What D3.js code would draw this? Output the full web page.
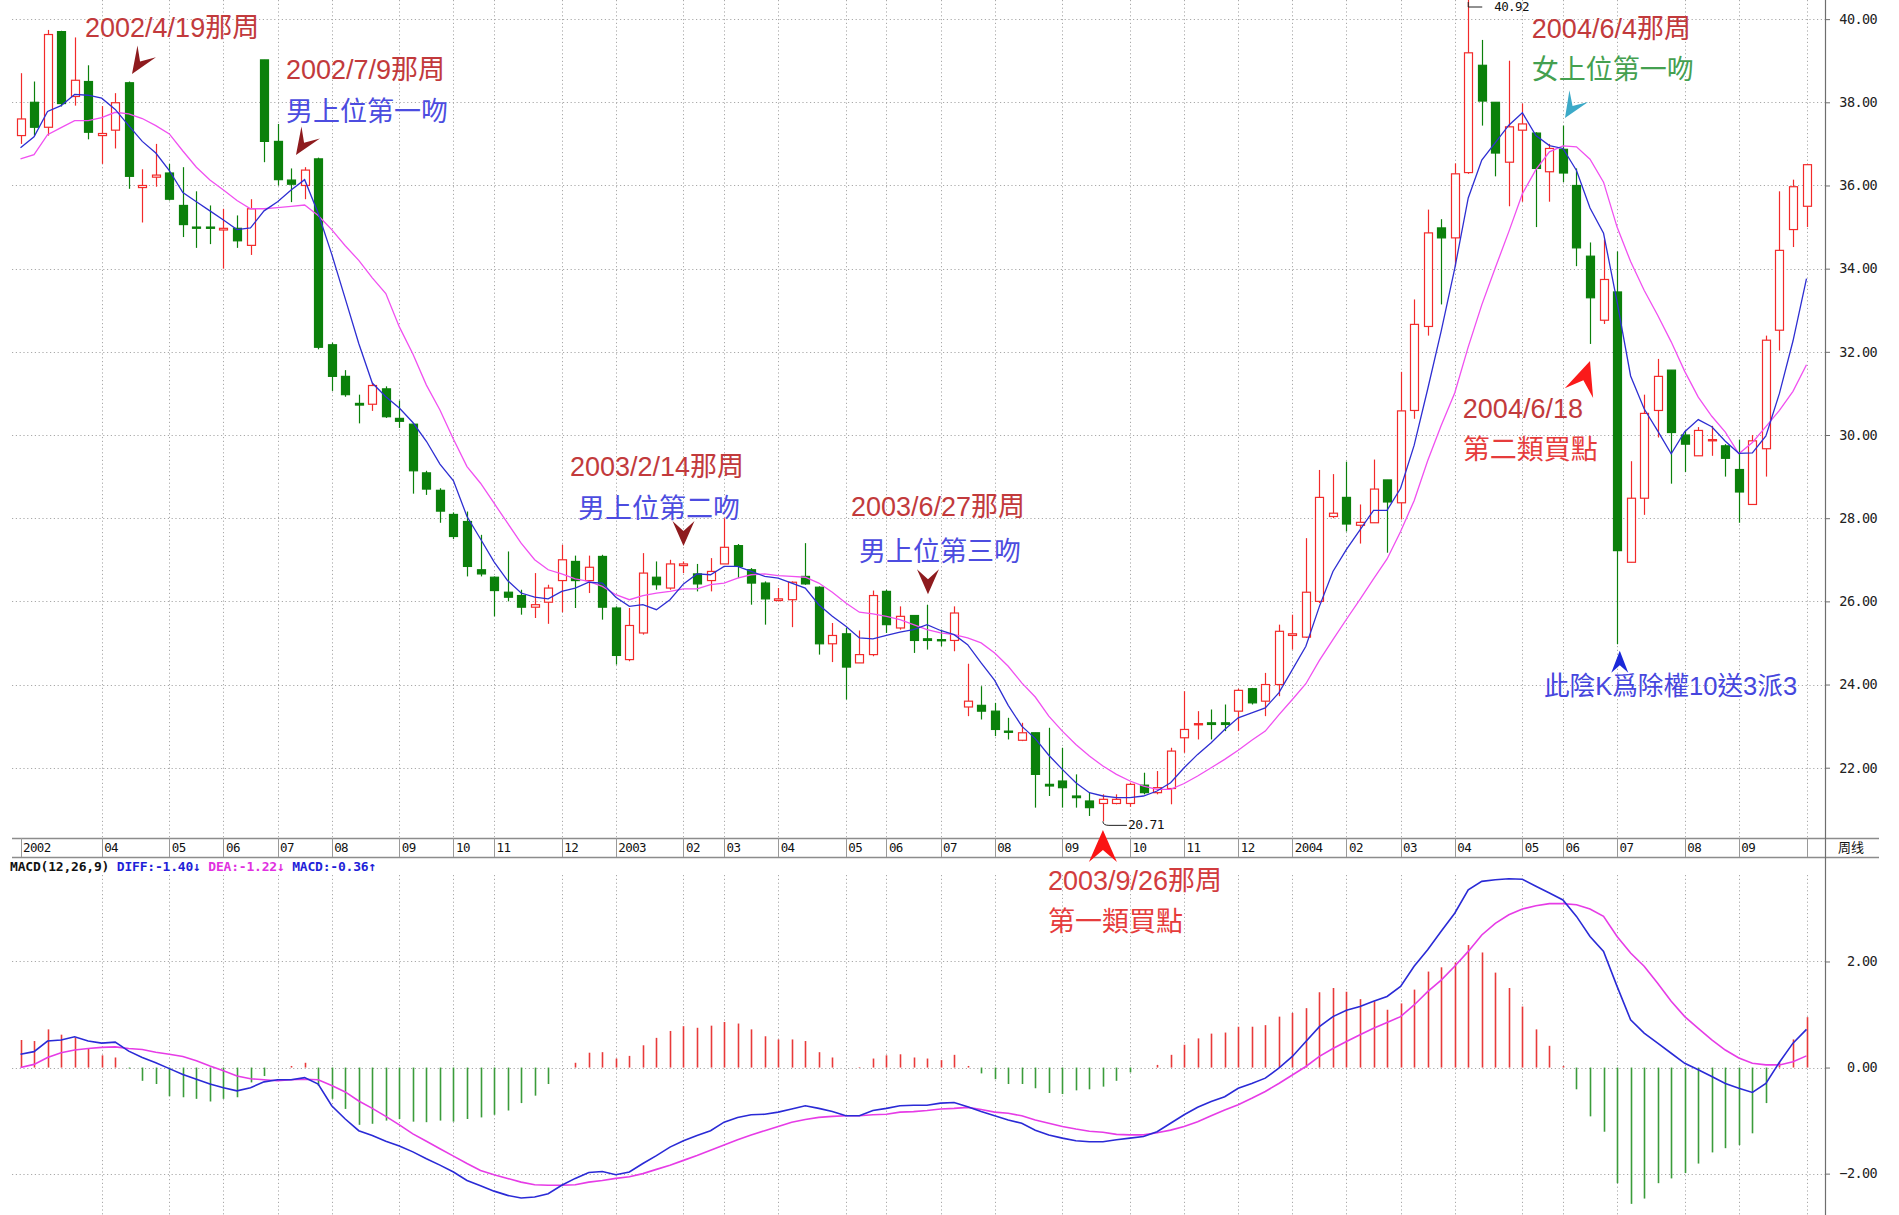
<!DOCTYPE html>
<html><head><meta charset="utf-8">
<script src="https://cdn.jsdelivr.net/npm/d3@7"></script>
<style>
html,body{margin:0;padding:0;background:#fff;}
svg{display:block;}
</style></head><body>
<svg id="chart" width="1899" height="1215"></svg>
<script>
// ---------- DATA (weekly candles, index 0..132) ----------
const opens = [
37.2,38.0,37.4,39.7,38.14,38.5,37.2,37.33,38.47,35.95,
36.2,36.3,35.52,35.0,35.0,34.93,34.97,34.56,39.02,37.06,
36.13,36.0,36.64,32.17,31.41,30.76,30.74,31.11,30.4,30.26,
29.09,28.67,28.09,27.92,26.76,26.58,26.22,26.14,25.86,25.98,
26.5,26.96,26.5,27.08,25.84,24.6,25.24,26.58,26.32,26.86,
26.66,26.5,26.9,27.34,26.76,26.44,26.02,26.04,26.6,26.34,
24.98,25.22,24.52,24.72,26.24,25.36,25.66,25.1,25.08,25.06,
23.46,23.5,23.36,22.88,22.66,22.84,21.6,21.68,21.32,21.2,
21.14,21.14,21.14,21.58,21.4,21.5,22.72,23.04,23.08,23.08,
23.36,23.9,23.6,24.0,25.18,25.14,26.0,28.04,28.5,27.83,
27.89,28.92,28.37,30.59,32.61,34.98,34.74,36.31,38.89,38.0,
36.56,37.33,37.26,36.33,36.87,36.0,34.3,32.76,33.44,26.94,
28.48,30.59,31.56,30.0,29.5,29.86,29.74,29.17,28.33,29.67,
32.52,34.94,35.5];
const highs = [
38.7,38.5,39.74,39.72,39.56,38.89,37.91,38.22,38.5,36.39,
37.0,36.52,36.44,35.86,35.52,35.44,35.28,35.67,39.02,37.48,
36.41,36.44,36.67,32.22,31.56,30.97,31.26,31.17,30.83,30.28,
29.14,28.72,28.14,28.16,27.6,26.6,27.2,26.28,26.68,26.4,
27.36,27.1,27.1,27.12,25.88,25.84,27.16,26.96,27.0,26.96,
26.9,27.04,28.0,27.38,26.8,26.48,26.32,26.48,27.4,26.36,
25.48,25.36,25.3,26.26,26.28,25.88,25.66,25.92,25.32,25.88,
24.5,23.96,23.56,23.2,23.08,22.84,22.96,22.48,21.84,21.4,
21.36,21.36,21.64,21.88,21.92,22.48,23.84,23.36,23.4,23.52,
23.9,23.92,24.28,25.44,25.68,27.52,29.16,29.06,29.36,28.33,
29.41,28.92,31.52,33.26,35.42,35.19,36.53,40.92,39.5,38.0,
39.0,37.97,37.28,37.0,37.44,36.41,34.63,34.7,34.41,29.37,
30.97,31.83,31.56,30.11,30.19,30.22,29.78,29.89,30.0,32.39,
35.86,36.14,36.52];
const lows = [
37.0,37.2,37.2,37.9,37.92,37.11,36.52,36.89,35.92,35.11,
35.97,35.64,34.76,34.5,34.59,34.0,34.5,34.33,36.56,36.0,
35.6,35.67,32.06,31.06,30.92,30.28,30.58,30.41,30.17,28.59,
28.56,27.89,27.5,26.6,26.6,25.64,26.0,25.68,25.6,25.46,
25.74,25.84,26.2,25.56,24.48,24.56,25.2,26.28,26.28,26.68,
26.24,26.24,26.9,26.56,25.92,25.44,26.0,25.38,26.4,24.72,
24.54,23.64,24.52,24.68,25.24,25.32,24.76,24.84,24.92,24.8,
23.24,23.16,22.76,22.68,22.64,21.04,21.32,21.04,21.04,20.84,
20.71,21.12,21.06,21.36,21.36,21.12,22.36,22.68,22.68,22.88,
22.88,23.52,23.24,23.72,24.84,25.12,25.96,28.0,27.68,27.39,
27.89,27.17,27.97,30.39,32.39,33.14,34.06,36.28,37.44,36.22,
35.5,35.61,35.0,35.61,36.08,34.06,32.19,32.67,24.97,26.94,
28.08,29.94,28.83,29.11,29.5,29.5,29.0,27.89,28.33,29.0,
32.03,34.52,35.0];
const closes = [
37.6,37.4,39.63,37.97,38.53,37.28,37.25,37.99,36.22,36.0,
36.25,35.67,35.06,34.98,34.97,34.97,34.67,35.44,37.06,36.14,
36.03,36.37,32.11,31.41,30.97,30.72,31.19,30.44,30.33,29.14,
28.7,28.17,27.56,26.84,26.66,26.26,26.1,25.86,25.92,26.32,
27.0,26.5,26.82,25.86,24.7,25.42,26.68,26.4,26.9,26.9,
26.42,26.72,27.3,26.84,26.44,26.06,26.06,26.46,26.42,24.98,
25.18,24.42,24.72,26.14,25.44,25.64,25.06,25.06,25.06,25.72,
23.6,23.36,22.92,22.86,22.84,21.84,21.56,21.52,21.28,21.04,
21.24,21.24,21.6,21.4,21.52,22.4,22.92,23.06,23.04,23.04,
23.86,23.56,24.0,25.28,25.22,26.22,28.5,28.12,27.86,27.9,
28.7,28.39,30.58,32.66,34.86,34.74,36.28,39.19,38.03,36.78,
37.41,37.48,36.41,36.89,36.3,34.5,33.3,33.74,27.22,28.48,
30.52,31.41,30.06,29.78,30.11,29.89,29.44,28.63,29.86,32.28,
34.44,35.97,36.5];
// moving averages (blue = MA5, magenta = MA10)
const ma5 = [
36.91,37.17,37.78,37.92,38.19,38.17,38.10,37.83,37.44,37.06,
36.78,36.36,35.83,35.61,35.39,35.17,34.94,34.98,35.39,35.61,
35.89,36.14,35.33,34.35,33.28,32.2,31.25,30.92,30.65,30.3,
29.85,29.3,28.9,28.04,27.5,26.95,26.5,26.2,26.1,26.06,
26.24,26.32,26.46,26.44,26.1,25.88,25.92,25.8,26.04,26.42,
26.66,26.64,26.84,26.84,26.72,26.6,26.56,26.44,26.32,25.92,
25.64,25.4,25.12,25.1,25.18,25.26,25.32,25.44,25.3,25.2,
24.96,24.52,24.1,23.5,23.0,22.7,22.3,21.96,21.64,21.4,
21.32,21.28,21.28,21.32,21.44,21.64,22.0,22.32,22.6,22.92,
23.2,23.32,23.44,23.8,24.36,24.92,25.88,26.72,27.25,27.72,
28.19,28.19,28.72,29.75,31.1,32.5,34.0,35.7,36.61,37.03,
37.45,37.75,37.2,36.96,36.89,36.36,35.46,34.85,33.2,31.42,
30.63,30.1,29.55,30.08,30.37,30.2,29.85,29.56,29.57,29.98,
31.0,32.26,33.76];
const ma10 = [
36.64,36.74,37.22,37.39,37.56,37.56,37.63,37.76,37.72,37.61,
37.44,37.24,36.83,36.44,36.13,35.89,35.64,35.44,35.44,35.47,
35.5,35.53,35.28,34.94,34.55,34.2,33.78,33.4,32.6,31.95,
31.2,30.6,29.9,29.24,28.84,28.36,27.88,27.4,27.0,26.76,
26.66,26.54,26.48,26.36,26.16,26.04,26.14,26.2,26.24,26.3,
26.3,26.4,26.44,26.56,26.64,26.66,26.62,26.6,26.58,26.44,
26.22,25.96,25.74,25.7,25.64,25.56,25.44,25.32,25.24,25.2,
25.12,25.0,24.76,24.44,24.04,23.7,23.24,22.88,22.56,22.28,
22.04,21.84,21.68,21.56,21.48,21.48,21.62,21.8,22.0,22.2,
22.42,22.66,22.88,23.27,23.64,24.02,24.58,25.08,25.57,26.05,
26.54,27.02,27.68,28.42,29.38,30.23,31.01,32.12,33.13,34.02,
34.89,35.8,36.38,36.81,36.95,36.93,36.63,36.08,35.0,34.17,
33.48,32.88,32.24,31.53,30.91,30.45,30.07,29.55,29.82,30.2,
30.59,31.05,31.69];
// MACD(12,26,9)
const diffs = [
0.25,0.3,0.5,0.52,0.58,0.5,0.46,0.48,0.31,0.19,
0.09,-0.02,-0.13,-0.22,-0.31,-0.38,-0.44,-0.38,-0.27,-0.23,
-0.23,-0.19,-0.31,-0.72,-0.97,-1.19,-1.28,-1.39,-1.48,-1.59,
-1.72,-1.84,-1.97,-2.13,-2.23,-2.33,-2.41,-2.46,-2.44,-2.38,
-2.22,-2.09,-1.98,-1.96,-2.02,-1.97,-1.81,-1.66,-1.5,-1.38,
-1.28,-1.19,-1.03,-0.94,-0.89,-0.88,-0.84,-0.78,-0.72,-0.77,
-0.83,-0.91,-0.91,-0.81,-0.77,-0.72,-0.71,-0.71,-0.67,-0.66,
-0.74,-0.83,-0.91,-0.99,-1.05,-1.18,-1.27,-1.33,-1.38,-1.4,
-1.4,-1.36,-1.33,-1.3,-1.21,-1.05,-0.89,-0.75,-0.64,-0.55,
-0.39,-0.3,-0.2,-0.01,0.21,0.49,0.77,0.96,1.08,1.15,
1.25,1.34,1.53,1.91,2.22,2.57,2.91,3.35,3.51,3.54,
3.56,3.55,3.42,3.29,3.16,2.85,2.47,2.19,1.53,0.9,
0.65,0.46,0.27,0.08,-0.04,-0.17,-0.3,-0.39,-0.47,-0.3,
0.1,0.46,0.72];
const deas = [
0.0,0.06,0.19,0.28,0.33,0.36,0.38,0.39,0.36,0.34,
0.29,0.25,0.21,0.13,0.03,-0.06,-0.16,-0.21,-0.23,-0.25,
-0.23,-0.22,-0.23,-0.34,-0.46,-0.63,-0.77,-0.92,-1.08,-1.25,
-1.39,-1.53,-1.67,-1.81,-1.94,-2.02,-2.09,-2.16,-2.21,-2.22,
-2.22,-2.21,-2.16,-2.13,-2.09,-2.06,-2.0,-1.92,-1.84,-1.75,
-1.66,-1.56,-1.46,-1.36,-1.27,-1.19,-1.11,-1.03,-0.98,-0.94,
-0.92,-0.91,-0.91,-0.89,-0.88,-0.84,-0.83,-0.81,-0.78,-0.77,
-0.75,-0.79,-0.84,-0.86,-0.91,-0.99,-1.05,-1.11,-1.16,-1.2,
-1.22,-1.26,-1.27,-1.27,-1.23,-1.18,-1.11,-1.02,-0.91,-0.8,
-0.7,-0.58,-0.45,-0.3,-0.14,0.02,0.21,0.36,0.49,0.62,
0.74,0.85,0.96,1.18,1.43,1.65,1.91,2.19,2.5,2.72,
2.88,2.99,3.05,3.09,3.09,3.07,2.99,2.85,2.47,2.16,
1.91,1.59,1.25,0.96,0.74,0.52,0.33,0.18,0.08,0.05,
0.05,0.11,0.22];
const macdBars = [
0.52,0.5,0.72,0.62,0.56,0.36,0.23,0.19,-0.02,-0.25,
-0.31,-0.54,-0.56,-0.59,-0.64,-0.59,-0.56,-0.28,-0.16,0.0,
0.03,0.09,-0.34,-0.59,-0.78,-1.08,-1.06,-1.0,-0.97,-1.02,
-1.03,-1.0,-1.02,-0.97,-0.94,-0.89,-0.81,-0.67,-0.53,-0.31,
0.0,0.09,0.28,0.29,0.17,0.22,0.42,0.56,0.69,0.78,
0.75,0.79,0.86,0.83,0.72,0.59,0.53,0.53,0.5,0.29,
0.19,0.0,0.01,0.17,0.23,0.25,0.19,0.17,0.14,0.24,
0.03,-0.11,-0.22,-0.31,-0.31,-0.39,-0.48,-0.5,-0.43,-0.41,
-0.36,-0.25,-0.09,0.0,0.05,0.24,0.43,0.55,0.64,0.66,
0.77,0.77,0.8,0.96,1.03,1.12,1.42,1.5,1.43,1.29,
1.25,1.09,1.21,1.47,1.81,1.89,1.98,2.31,2.17,1.79,
1.5,1.15,0.72,0.41,0.03,-0.41,-0.92,-1.21,-2.18,-2.57,
-2.47,-2.18,-2.09,-1.99,-1.81,-1.6,-1.52,-1.46,-1.24,-0.67,
0.1,0.53,0.95];
// date axis
const monthLabels = ["2002","04","05","06","07","08","09","10","11","12",
  "2003","02","03","04","05","06","07","08","09","10","11","12",
  "2004","02","03","04","05","06","07","08","09",""];
const monthIndex = [0,6,11,15,19,23,28,32,35,40,
  44,49,52,56,61,64,68,72,77,82,86,90,
  94,98,102,106,111,114,118,123,127,132];
const priceTicks = [22,24,26,28,30,32,34,36,38,40];
const macdTicks = [-2,0,2];
const periodLabel = "周线";
const macdTitle = ["MACD(12,26,9) ","DIFF:-1.40↓ ","DEA:-1.22↓ ","MACD:-0.36↑"];

// ---------- LAYOUT ----------
const W = 1899, H = 1215;
const plotLeft = 12, axisX = 1825, labelRight = 1877;
const priceTop = 0, priceBottom = 838, stripBottom = 857, macdBottom = 1215;

const svg = d3.select("#chart");
const n = closes.length;
const x = d3.scaleLinear().domain([0, n - 1]).range([20.5, 1806.5]);
const yP = d3.scaleLinear().domain([20.31, 40.46]).range([priceBottom, priceTop]);
const yM = d3.scaleLinear().domain([-2.78, 3.97]).range([macdBottom, stripBottom]);

const gridColor = "#a9a9a9";
const monoFont = "'DejaVu Sans Mono','Liberation Mono',monospace";
const cjkFont = "'Liberation Sans','Noto Sans CJK TC',sans-serif";

// ---------- GRID ----------
const grid = svg.append("g").attr("stroke", gridColor).attr("stroke-width", 1)
  .attr("stroke-dasharray", "1.2,2.6").attr("fill", "none");
grid.selectAll("line.hp").data(priceTicks).join("line")
  .attr("x1", plotLeft).attr("x2", axisX)
  .attr("y1", d => Math.round(yP(d)) + 0.5).attr("y2", d => Math.round(yP(d)) + 0.5);
grid.selectAll("line.hm").data(macdTicks).join("line")
  .attr("x1", plotLeft).attr("x2", axisX)
  .attr("y1", d => Math.round(yM(d)) + 0.5).attr("y2", d => Math.round(yM(d)) + 0.5);
const vIdx = monthIndex.filter(d => d > 0);
grid.selectAll("line.vp").data(vIdx).join("line")
  .attr("x1", d => Math.round(x(d)) + 0.5).attr("x2", d => Math.round(x(d)) + 0.5)
  .attr("y1", priceTop).attr("y2", priceBottom);
grid.append("g").selectAll("line").data(vIdx).join("line")
  .attr("x1", d => Math.round(x(d)) + 0.5).attr("x2", d => Math.round(x(d)) + 0.5)
  .attr("y1", stripBottom + 18).attr("y2", macdBottom);

// ---------- DATE STRIP ----------
const strip = svg.append("g");
[priceBottom, stripBottom].forEach(yy => {
  strip.append("line").attr("x1", plotLeft).attr("x2", labelRight + 2)
    .attr("y1", yy + 0.5).attr("y2", yy + 0.5).attr("stroke", "#8c8c8c").attr("stroke-width", 1.6);
});
strip.selectAll("line.tk").data(monthIndex).join("line")
  .attr("x1", d => Math.round(x(d)) + 0.5).attr("x2", d => Math.round(x(d)) + 0.5)
  .attr("y1", priceBottom).attr("y2", stripBottom).attr("stroke", "#9a9a9a").attr("stroke-width", 1);
strip.selectAll("text").data(monthIndex).join("text")
  .attr("x", d => x(d) + 2.5).attr("y", (priceBottom + stripBottom) / 2 + 1)
  .attr("dominant-baseline", "middle").attr("font-family", monoFont).attr("font-size", 12.5)
  .attr("fill", "#111").attr("letter-spacing", -0.6)
  .text((d, i) => monthLabels[i]);
strip.append("text").attr("x", axisX + 13).attr("y", (priceBottom + stripBottom) / 2 + 1)
  .attr("dominant-baseline", "middle").attr("font-family", "'Noto Sans CJK SC',sans-serif")
  .attr("font-size", 13).attr("fill", "#111").text(periodLabel);

// ---------- RIGHT AXES ----------
svg.append("line").attr("x1", axisX + 0.5).attr("x2", axisX + 0.5).attr("y1", 0).attr("y2", H)
  .attr("stroke", "#6e6e6e").attr("stroke-width", 1.2);
const axP = d3.axisRight(yP).tickValues(priceTicks).tickFormat(d3.format(".2f")).tickSize(5);
const gP = svg.append("g").attr("transform", `translate(${axisX},0)`).call(axP);
const axM = d3.axisRight(yM).tickValues(macdTicks).tickFormat(d3.format(".2f")).tickSize(5);
const gM = svg.append("g").attr("transform", `translate(${axisX},0)`).call(axM);
[gP, gM].forEach(g => {
  g.select(".domain").remove();
  g.selectAll(".tick line").attr("stroke", "#6e6e6e");
  g.selectAll(".tick text").attr("x", labelRight - axisX).attr("text-anchor", "end")
    .attr("font-family", monoFont).attr("font-size", 13.5).attr("fill", "#222").attr("letter-spacing", -0.6);
});

// ---------- CANDLES ----------
const upColor = "#f22a2a", downColor = "#0b800b";
const bw = 8;
const candles = svg.append("g");
const idx = d3.range(n);
candles.selectAll("line.w").data(idx).join("line")
  .attr("x1", i => Math.round(x(i)) + 0.5).attr("x2", i => Math.round(x(i)) + 0.5)
  .attr("y1", i => yP(highs[i])).attr("y2", i => yP(lows[i]))
  .attr("stroke", i => closes[i] >= opens[i] ? upColor : downColor).attr("stroke-width", 1.2);
candles.selectAll("rect").data(idx).join("rect")
  .attr("x", i => Math.round(x(i)) - bw / 2 + 0.5)
  .attr("width", bw)
  .attr("y", i => yP(Math.max(opens[i], closes[i])))
  .attr("height", i => Math.max(1.2, Math.abs(yP(opens[i]) - yP(closes[i]))))
  .attr("fill", i => closes[i] >= opens[i] ? "#fff" : downColor)
  .attr("stroke", i => closes[i] >= opens[i] ? upColor : downColor)
  .attr("stroke-width", 1.2);

// ---------- MOVING AVERAGES ----------
const lineP = arr => d3.line().x((d, i) => x(i)).y(d => yP(d)).curve(d3.curveLinear)(arr);
svg.append("path").attr("d", lineP(ma10)).attr("fill", "none").attr("stroke", "#f050f0").attr("stroke-width", 1.3);
svg.append("path").attr("d", lineP(ma5)).attr("fill", "none").attr("stroke", "#2e2ed2").attr("stroke-width", 1.3);

// ---------- MACD PANEL ----------
svg.append("g").selectAll("line").data(idx).join("line")
  .attr("x1", i => Math.round(x(i)) + 0.5).attr("x2", i => Math.round(x(i)) + 0.5)
  .attr("y1", yM(0)).attr("y2", i => yM(macdBars[i]))
  .attr("stroke", i => macdBars[i] >= 0 ? "#e83a3a" : "#3b9c3b").attr("stroke-width", 1.6);
const lineM = arr => d3.line().x((d, i) => x(i)).y(d => yM(d))(arr);
svg.append("path").attr("d", lineM(deas)).attr("fill", "none").attr("stroke", "#e63ce6").attr("stroke-width", 1.6);
svg.append("path").attr("d", lineM(diffs)).attr("fill", "none").attr("stroke", "#2a2ad6").attr("stroke-width", 1.6);

const mt = svg.append("text").attr("x", 10).attr("y", 867).attr("dominant-baseline", "middle")
  .attr("font-family", monoFont).attr("font-size", 13).attr("font-weight", "bold").attr("letter-spacing", -0.2);
const mtColors = ["#111", "#1f1fd8", "#e030e0", "#1f1fd8"];
macdTitle.forEach((t, i) => mt.append("tspan").attr("fill", mtColors[i]).text(t));

// ---------- ANNOTATIONS ----------
const ann = svg.append("g");
function arrowHead(tipX, tipY, angle, w, h, notch, color) {
  ann.append("path")
    .attr("d", `M0,0 L${w / 2},${h} L0,${h * notch} L${-w / 2},${h} Z`)
    .attr("transform", `translate(${tipX},${tipY}) rotate(${angle})`)
    .attr("fill", color);
}
const darkRed = "#8e1b1e";
arrowHead(x(8.24), yP(38.68), 213, 22, 27, 0.55, darkRed);
arrowHead(x(20.36), yP(36.73), 213, 22, 27, 0.55, darkRed);
arrowHead(x(49), yP(27.33), 180, 22, 25, 0.6, darkRed);
arrowHead(x(67.07), yP(26.17), 180, 22, 25, 0.6, darkRed);
arrowHead(x(80), yP(20.5), 0, 28, 32, 0.62, "#fa1414");
arrowHead(x(114.15), yP(37.62), 212, 22, 26, 0.55, "#3caac8");
arrowHead(x(116), yP(31.78), 19, 30, 34, 0.6, "#fa1a1a");
arrowHead(x(118.2), yP(24.81), 0, 17, 22, 0.66, "#1a28d8");

function label(txt, i, v, color, size) {
  ann.append("text").attr("x", x(i)).attr("y", yP(v))
    .attr("font-family", cjkFont).attr("font-size", size || 27).attr("fill", color).text(txt);
}
const dateRed = "#c23a3c", blueT = "#4c4ce0", redT = "#e63c3c";
label("2002/4/19那周", 4.77, 39.56, dateRed);
label("2002/7/9那周", 19.62, 38.55, dateRed);
label("男上位第一吻", 19.62, 37.55, blueT);
label("2003/2/14那周", 40.61, 29.02, dateRed);
label("男上位第二吻", 41.2, 28.0, blueT);
label("2003/6/27那周", 61.38, 28.05, dateRed);
label("男上位第三吻", 61.97, 26.97, blueT);
label("2003/9/26那周", 75.94, 19.07, "#d23c3e");
label("第一類買點", 75.94, 18.08, redT);
label("2004/6/4那周", 111.7, 39.54, dateRed);
label("女上位第一吻", 111.7, 38.55, "#44a050");
label("2004/6/18", 106.6, 30.4, dateRed);
label("第二類買點", 106.6, 29.42, redT);
label("此陰K爲除權10送3派3", 112.6, 23.76, "#4646de", 25.6);

// extreme value labels
const lowI = 80, highI = 107;
const lx = x(lowI), ly = yP(lows[lowI]);
ann.append("path").attr("d", `M${lx},${ly} Q${lx},${ly + 4} ${lx + 6},${ly + 4} L${lx + 24},${ly + 4}`)
  .attr("fill", "none").attr("stroke", "#222").attr("stroke-width", 1);
ann.append("text").attr("x", lx + 25).attr("y", ly + 4).attr("dominant-baseline", "middle")
  .attr("font-family", monoFont).attr("font-size", 13).attr("fill", "#111").attr("letter-spacing", -0.6)
  .text(d3.format(".2f")(lows[lowI]));
const hx = x(highI), hy = Math.max(yP(highs[highI]), 7);
ann.append("path").attr("d", `M${hx},${hy - 5} L${hx},${hy} L${hx + 14},${hy}`)
  .attr("fill", "none").attr("stroke", "#222").attr("stroke-width", 1);
ann.append("text").attr("x", hx + 26).attr("y", hy).attr("dominant-baseline", "middle")
  .attr("font-family", monoFont).attr("font-size", 12.5).attr("fill", "#111").attr("letter-spacing", -0.6)
  .text(d3.format(".2f")(highs[highI]));
</script>
</body></html>
